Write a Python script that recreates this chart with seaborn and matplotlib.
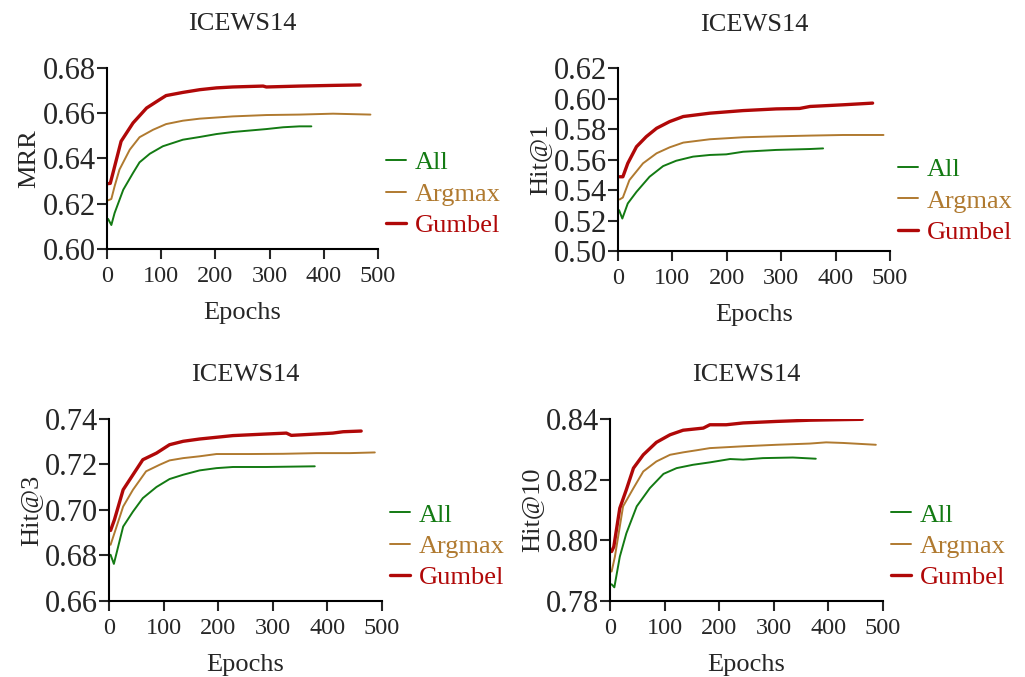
import numpy as np
import pandas as pd
import seaborn as sns
import matplotlib
matplotlib.use("Agg")
import matplotlib.pyplot as plt

sns.set_style("ticks")
plt.rcParams["font.family"] = ["Liberation Serif", "DejaVu Serif"]

METHODS = ["All", "Argmax", "Gumbel"]
COLORS = {"All": "#137a13", "Argmax": "#b07a30", "Gumbel": "#b00808"}
WIDTHS = {"All": 1.4, "Argmax": 1.4, "Gumbel": 2.4}

# MRR
mrr_all_ep = [2, 8, 14, 30, 48, 60, 79, 103, 140, 171, 202, 232, 294, 325, 355, 377]
mrr_all = [0.6133, 0.6106, 0.6159, 0.6262, 0.6336, 0.6383, 0.6421, 0.6454, 0.6483,
           0.6495, 0.6508, 0.6517, 0.6530, 0.6538, 0.6542, 0.6542]
mrr_arg_ep = [2, 8, 14, 23, 42, 60, 85, 109, 140, 171, 232, 294, 355, 417, 486]
mrr_arg = [0.6215, 0.6221, 0.6277, 0.6351, 0.6439, 0.6494, 0.6527, 0.6552, 0.6567,
           0.6576, 0.6586, 0.6592, 0.6594, 0.6598, 0.6594]
mrr_gum_ep = [2, 6, 11, 26, 48, 73, 97, 109, 140, 171, 202, 232, 288, 294, 355, 417, 467]
mrr_gum = [0.6289, 0.6290, 0.6336, 0.6476, 0.6557, 0.6623, 0.6660, 0.6678, 0.6692,
           0.6704, 0.6712, 0.6716, 0.6720, 0.6716, 0.6720, 0.6723, 0.6725]

# Hit@1
h1_all_ep = [2, 8, 18, 34, 58, 83, 107, 138, 169, 199, 230, 291, 353, 377]
h1_all = [0.5268, 0.5213, 0.5312, 0.5388, 0.5487, 0.5557, 0.5592, 0.5619, 0.5630,
          0.5634, 0.5651, 0.5663, 0.5669, 0.5673]
h1_arg_ep = [3, 9, 21, 46, 71, 95, 120, 169, 230, 291, 353, 414, 488]
h1_arg = [0.5338, 0.5351, 0.5465, 0.5575, 0.5641, 0.5680, 0.5711, 0.5733, 0.5746,
          0.5752, 0.5757, 0.5761, 0.5761]
h1_gum_ep = [3, 9, 18, 34, 52, 71, 95, 120, 169, 230, 291, 334, 353, 414, 468]
h1_gum = [0.5487, 0.5487, 0.5575, 0.5684, 0.5750, 0.5805, 0.5849, 0.5882, 0.5904,
          0.5921, 0.5932, 0.5935, 0.5948, 0.5959, 0.5970]

# Hit@3
h3_all_ep = [3, 9, 26, 44, 62, 87, 111, 136, 166, 197, 227, 288, 377]
h3_all = [0.6803, 0.6763, 0.6927, 0.6993, 0.7052, 0.7101, 0.7136, 0.7155, 0.7174,
          0.7184, 0.7189, 0.7189, 0.7192]
h3_arg_ep = [3, 10, 26, 44, 68, 93, 111, 136, 166, 197, 258, 319, 380, 441, 487]
h3_arg = [0.6847, 0.6898, 0.7015, 0.7089, 0.7170, 0.7199, 0.7218, 0.7228, 0.7236,
          0.7246, 0.7246, 0.7247, 0.7250, 0.7250, 0.7253]
h3_gum_ep = [3, 10, 26, 44, 62, 87, 111, 136, 166, 227, 288, 325, 334, 380, 410, 429, 462]
h3_gum = [0.6910, 0.6957, 0.7089, 0.7155, 0.7221, 0.7250, 0.7287, 0.7302, 0.7312,
          0.7327, 0.7334, 0.7338, 0.7328, 0.7334, 0.7338, 0.7344, 0.7347]

# Hit@10
h10_all_ep = [3, 8, 18, 30, 49, 73, 98, 122, 152, 183, 220, 244, 280, 335, 377]
h10_all = [0.7855, 0.7845, 0.7946, 0.8023, 0.8112, 0.8172, 0.8219, 0.8238, 0.8249,
           0.8257, 0.8268, 0.8266, 0.8271, 0.8273, 0.8269]
h10_arg_ep = [3, 9, 24, 43, 61, 85, 110, 134, 159, 183, 244, 305, 366, 396, 427, 487]
h10_arg = [0.7897, 0.7946, 0.8112, 0.8172, 0.8227, 0.8260, 0.8282, 0.8290, 0.8297,
           0.8304, 0.8310, 0.8315, 0.8319, 0.8323, 0.8321, 0.8315]
h10_gum_ep = [3, 7, 18, 30, 43, 61, 85, 110, 134, 171, 183, 213, 244, 305, 366, 427, 462]
h10_gum = [0.7963, 0.7979, 0.8106, 0.8167, 0.8238, 0.8282, 0.8323, 0.8348, 0.8363,
           0.8370, 0.8381, 0.8381, 0.8387, 0.8392, 0.8396, 0.8398, 0.8399]

panels = [
    ("MRR", [(mrr_all_ep, mrr_all), (mrr_arg_ep, mrr_arg), (mrr_gum_ep, mrr_gum)],
     (0.60, 0.68), [0.60, 0.62, 0.64, 0.66, 0.68], [0.1044, 0.6322, 0.2644, 0.2674],
     (0.99, 0.60)),
    ("Hit@1", [(h1_all_ep, h1_all), (h1_arg_ep, h1_arg), (h1_gum_ep, h1_gum)],
     (0.50, 0.62), [0.50, 0.52, 0.54, 0.56, 0.58, 0.60, 0.62], [0.6029, 0.6292, 0.2654, 0.2703],
     (0.99, 0.567)),
    ("Hit@3", [(h3_all_ep, h3_all), (h3_arg_ep, h3_arg), (h3_gum_ep, h3_gum)],
     (0.66, 0.74), [0.66, 0.68, 0.70, 0.72, 0.74], [0.1063, 0.1123, 0.2663, 0.2688],
     (0.99, 0.596)),
    ("Hit@10", [(h10_all_ep, h10_all), (h10_arg_ep, h10_arg), (h10_gum_ep, h10_gum)],
     (0.78, 0.84), [0.78, 0.80, 0.82, 0.84], [0.5951, 0.1123, 0.2663, 0.2688],
     (0.99, 0.596)),
]

fig = plt.figure(figsize=(10.25, 6.77), dpi=100)

for ylabel, series, ylim, yticks, rect, leg_anchor in panels:
    ax = fig.add_axes(rect)
    for name, (ep, vals) in zip(METHODS, series):
        df = pd.DataFrame({"epoch": ep, "value": vals})
        sns.lineplot(data=df, x="epoch", y="value", ax=ax, color=COLORS[name],
                     linewidth=WIDTHS[name], label=name)
    ax.set_xlim(0, 500)
    ax.set_ylim(*ylim)
    ax.set_xticks([0, 100, 200, 300, 400, 500])
    ax.set_yticks(yticks)
    ax.set_yticklabels([f"{t:.2f}" for t in yticks])
    ax.tick_params(axis="x", labelsize=17.5, direction="out", length=7, width=1.5, pad=5)
    ax.tick_params(axis="y", labelsize=22, direction="out", length=7, width=1.5, pad=1)
    for s in ["top", "right"]:
        ax.spines[s].set_visible(False)
    for s in ["left", "bottom"]:
        ax.spines[s].set_linewidth(1.5)
        ax.spines[s].set_color("black")
    ax.set_xlabel("Epochs", fontsize=19, labelpad=11)
    ax.set_ylabel(ylabel, fontsize=19, labelpad=2)
    ax.set_title("ICEWS14", fontsize=19, pad=27)
    ax.legend(loc="upper left", bbox_to_anchor=leg_anchor, frameon=False,
              fontsize=19, handlelength=0.75, handletextpad=0.35,
              labelspacing=0.3, borderaxespad=0, labelcolor="linecolor")

fig.savefig("out.png", dpi=100)
